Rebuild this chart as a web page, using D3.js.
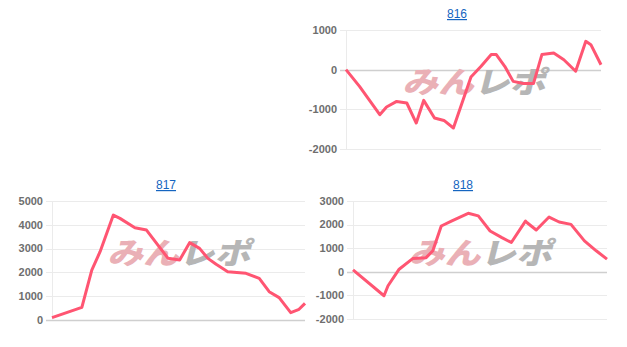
<!DOCTYPE html>
<html>
<head>
<meta charset="utf-8">
<script src="https://d3js.org/d3.v7.min.js"></script>
<style>
  body { margin: 0; background: #fff; font-family: "Liberation Sans", Arial, sans-serif; }
  .title { fill: #1565c0; font-size: 12px; text-decoration: underline; }
  .tick-label { fill: #6e6e6e; font-size: 11px; font-weight: bold; }
</style>
</head>
<body>
<script>
// games played vs coin difference, per machine number
const titles = ['816', '817', '818'];

const games816 = [0, 400, 1000, 1200, 1500, 1800, 2080, 2300, 2620, 2900, 3180, 3700, 4000, 4300, 4450, 4700, 4950, 5250, 5550, 5800, 6150, 6450, 6800, 7100, 7250, 7550];
const diff816 = [0, -420, -1135, -940, -800, -840, -1345, -775, -1220, -1280, -1470, -185, 85, 380, 380, 85, -295, -350, -350, 380, 420, 250, -40, 715, 630, 125];

const games817 = [0, 900, 1200, 1450, 1850, 2050, 2500, 2850, 3500, 3850, 4150, 4450, 4700, 4950, 5300, 5850, 6250, 6550, 6850, 7200, 7450, 7630];
const diff817 = [100, 530, 2100, 2870, 4410, 4270, 3880, 3780, 2590, 2520, 3250, 3010, 2590, 2340, 2030, 1960, 1750, 1190, 940, 310, 450, 700];

const games818 = [0, 920, 1040, 1370, 1770, 2170, 2370, 2620, 2920, 3420, 3720, 4070, 4420, 4700, 5120, 5170, 5440, 5820, 6120, 6470, 6870, 7220, 7540];
const diff818 = [85, -1015, -590, 110, 560, 600, 890, 1940, 2150, 2480, 2370, 1730, 1450, 1240, 2150, 2080, 1770, 2320, 2110, 2010, 1310, 890, 535];

const yTicks816 = [-2000, -1000, 0, 1000];
const yTicks817 = [0, 1000, 2000, 3000, 4000, 5000];
const yTicks818 = [-2000, -1000, 0, 1000, 2000, 3000];

const svg = d3.select('body').append('svg')
  .attr('width', 627)
  .attr('height', 347);

const panels = [
  {title: titles[0], games: games816, diff: diff816, ticks: yTicks816, x0: 346, x1: 601, y0: 30, y1: 149, tx: 457, ty: 18},
  {title: titles[1], games: games817, diff: diff817, ticks: yTicks817, x0: 52, x1: 305, y0: 201, y1: 320, tx: 166, ty: 189},
  {title: titles[2], games: games818, diff: diff818, ticks: yTicks818, x0: 353, x1: 607, y0: 201, y1: 319, tx: 463, ty: 189}
];

panels.forEach(p => {
  const g = svg.append('g');
  const x = d3.scaleLinear()
    .domain([0, d3.max(p.games)])
    .range([p.x0, p.x1]);
  const y = d3.scaleLinear()
    .domain(d3.extent(p.ticks))
    .range([p.y1, p.y0]);

  g.append('text')
    .attr('class', 'title')
    .attr('x', p.tx)
    .attr('y', p.ty)
    .attr('text-anchor', 'middle')
    .text(p.title);

  // gridlines
  g.selectAll('.grid')
    .data(p.ticks)
    .enter()
    .append('line')
    .attr('x1', p.x0 - 6)
    .attr('x2', p.x1)
    .attr('y1', d => Math.round(y(d)) + 0.5)
    .attr('y2', d => Math.round(y(d)) + 0.5)
    .attr('stroke', d => d === 0 ? '#cfcfcf' : '#ebebeb')
    .attr('stroke-width', d => d === 0 ? 1.5 : 1);

  g.append('line')
    .attr('x1', p.x0 + 0.5)
    .attr('x2', p.x0 + 0.5)
    .attr('y1', p.y0)
    .attr('y2', p.y1)
    .attr('stroke', '#ebebeb');

  g.selectAll('.tick-label')
    .data(p.ticks)
    .enter()
    .append('text')
    .attr('class', 'tick-label')
    .attr('x', p.x0 - 9)
    .attr('y', d => y(d))
    .attr('dy', '0.35em')
    .attr('text-anchor', 'end')
    .text(d => d);

  // watermark
  const cx = (p.x0 + p.x1) / 2;
  const cy = (p.y0 + p.y1) / 2;
  const wm = g.append('text')
    .attr('x', cx - 70)
    .attr('y', cy + 4)
    .attr('textLength', 143)
    .attr('lengthAdjust', 'spacingAndGlyphs')
    .style('font-family', '"Noto Sans CJK JP", sans-serif')
    .style('font-weight', 900)
    .style('font-size', '30px')
    .attr('transform', `skewX(-14)`)
    .attr('transform-origin', `${cx} ${cy}`);
  wm.append('tspan').attr('fill', '#eab0b6').text('みん');
  wm.append('tspan').attr('fill', '#b6b6b6').text('レポ');

  const line = d3.line()
    .x((d, i) => x(p.games[i]))
    .y(d => y(d));

  g.append('path')
    .datum(p.diff)
    .attr('d', line)
    .attr('fill', 'none')
    .attr('stroke', '#ff5572')
    .attr('stroke-width', 3)
    .attr('stroke-linejoin', 'round');
});
</script>
</body>
</html>
